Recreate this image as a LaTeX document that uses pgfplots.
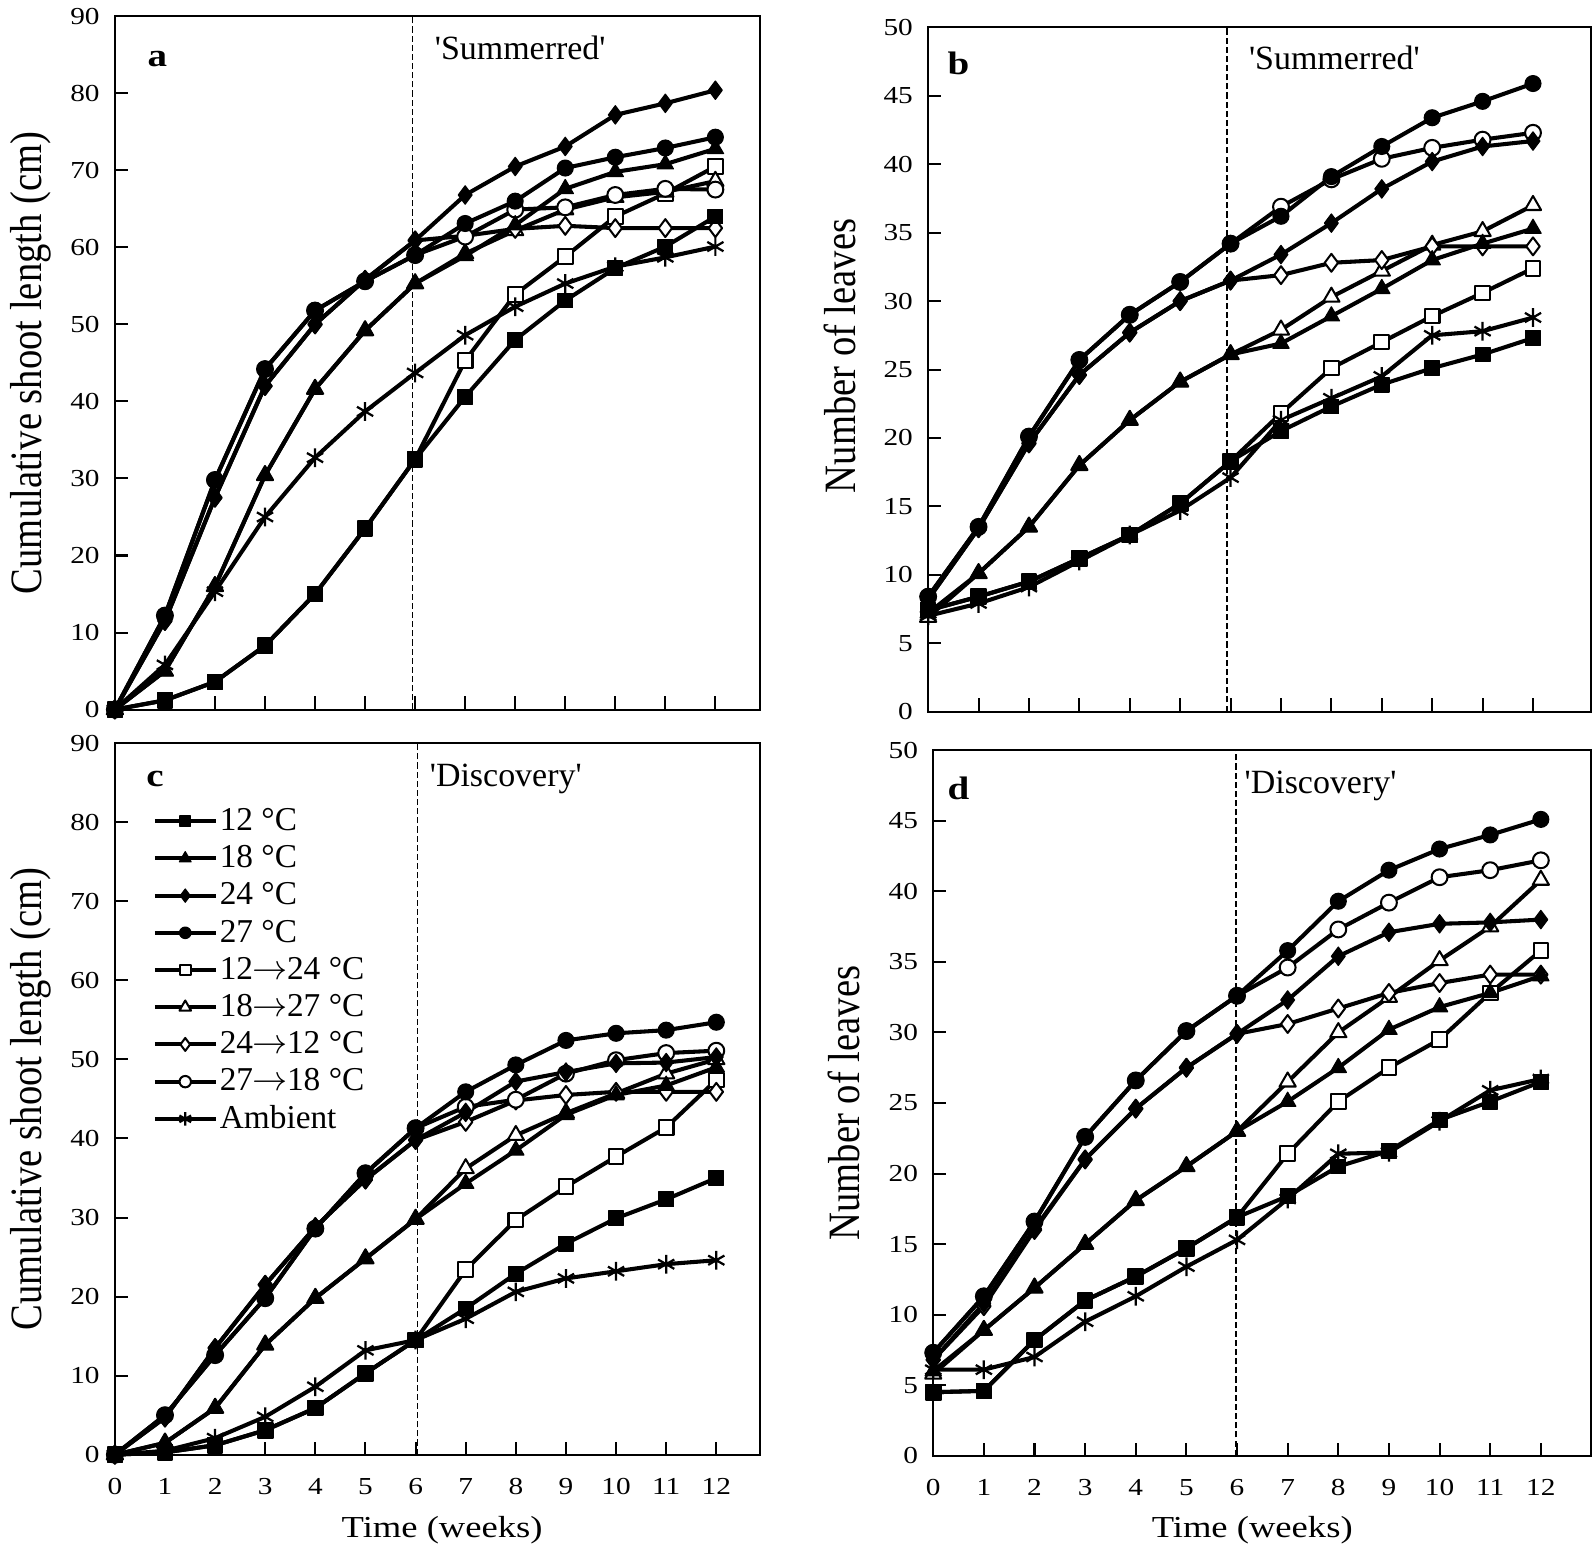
\documentclass[border=0pt]{standalone}
\usepackage{fontspec}
\setmainfont{Liberation Serif}
\newfontfamily\wfont[FakeStretch=1.2]{Liberation Serif}
\usepackage{graphicx}
\usepackage{pgfplots}
\usepackage{pgfplotstable}
\pgfplotsset{compat=1.18}

% a: shoot length, 'Summerred'
\pgfplotstableread{
w t12 t18 t24 t27 t1224 t1827 t2412 t2718 amb
0 0 0 0 0 0 0 0 0 0
1 1.2 5.0 11.5 12.2 1.2 5.0 11.5 12.2 5.8
2 3.6 16.0 27.5 29.8 3.6 16.0 27.5 29.8 15.3
3 8.3 30.4 42.0 44.2 8.3 30.4 42.0 44.2 25.0
4 15.0 41.6 50.0 51.8 15.0 41.6 50.0 51.8 32.7
5 23.5 49.2 55.8 55.6 23.5 49.2 55.8 55.6 38.7
6 32.5 55.3 60.9 59.0 32.5 55.3 60.9 59.0 43.7
7 40.6 58.9 66.8 63.1 45.3 59.2 61.5 61.4 48.6
8 48.0 62.9 70.5 66.0 53.9 62.2 62.4 64.9 52.3
9 53.1 67.6 73.1 70.3 58.8 64.9 62.8 65.2 55.3
10 57.3 69.8 77.2 71.7 64.0 66.5 62.5 66.8 57.5
11 60.1 70.8 78.7 72.9 67.0 67.2 62.5 67.6 58.7
12 64.0 72.8 80.4 74.3 70.5 68.6 62.5 67.5 60.1
}\tabA

% b: leaves, 'Summerred'
\pgfplotstableread{
w t12 t18 t24 t27 t1224 t1827 t2412 t2718 amb
0 7.4 7.2 8.2 8.4 7.4 6.9 8.2 8.4 7.0
1 8.4 10.1 13.4 13.5 8.4 10.1 13.4 13.5 7.9
2 9.5 13.5 19.6 20.1 9.5 13.5 19.6 20.1 9.1
3 11.2 18.0 24.6 25.7 11.2 18.0 24.6 25.7 11.0
4 12.9 21.3 27.7 29.0 12.9 21.3 27.7 29.0 12.9
5 15.2 24.1 30.0 31.4 15.2 24.1 30.0 31.4 14.7
6 18.3 26.1 31.5 34.2 18.3 26.1 31.5 34.2 17.1
7 20.5 26.9 33.4 36.2 21.8 27.9 31.9 36.9 21.3
8 22.3 28.9 35.7 39.1 25.1 30.3 32.8 38.9 22.9
9 23.9 30.9 38.2 41.3 27.0 32.2 33.0 40.4 24.5
10 25.1 33.0 40.2 43.4 28.9 34.1 34.0 41.2 27.5
11 26.1 34.2 41.3 44.6 30.6 35.1 34.0 41.8 27.8
12 27.3 35.3 41.7 45.9 32.4 37.0 34.0 42.3 28.8
}\tabB

% c: shoot length, 'Discovery'
\pgfplotstableread{
w t12 t18 t24 t27 t1224 t1827 t2412 t2718 amb
0 0 0 0 0 0 0 0 0 0
1 0.3 1.5 4.7 5.0 0.3 1.5 4.7 5.0 0.5
2 1.2 5.9 13.5 12.6 1.2 5.9 13.5 12.6 2.1
3 3.1 13.9 21.5 19.8 3.1 13.9 21.5 19.8 4.8
4 5.9 19.8 28.8 28.6 5.9 19.8 28.8 28.6 8.6
5 10.3 24.8 34.8 35.6 10.3 24.8 34.8 35.6 13.2
6 14.5 29.8 39.8 41.3 14.5 29.8 39.8 41.3 14.5
7 18.5 34.3 43.3 45.9 23.4 36.2 42.1 44.0 17.2
8 22.9 38.5 47.2 49.3 29.7 40.4 44.8 44.9 20.6
9 26.7 43.0 48.4 52.4 33.9 43.2 45.5 48.2 22.3
10 29.9 45.5 49.5 53.3 37.7 45.7 45.9 49.9 23.2
11 32.3 46.7 49.6 53.7 41.4 48.2 45.9 50.8 24.1
12 35.0 49.0 50.3 54.7 47.4 50.0 45.9 51.1 24.6
}\tabC

% d: leaves, 'Discovery'
\pgfplotstableread{
w t12 t18 t24 t27 t1224 t1827 t2412 t2718 amb
0 4.5 6.0 6.8 7.3 4.5 5.8 6.8 7.3 6.1
1 4.6 8.9 10.8 11.3 4.6 8.9 10.6 11.3 6.1
2 8.2 11.9 16.1 16.6 8.2 11.9 16.0 16.6 7.0
3 11.0 15.0 21.0 22.6 11.0 15.0 21.0 22.6 9.5
4 12.7 18.1 24.6 26.6 12.7 18.1 24.6 26.6 11.3
5 14.7 20.5 27.5 30.1 14.7 20.5 27.5 30.1 13.4
6 16.9 23.0 29.9 32.6 16.9 23.0 29.9 32.6 15.3
7 18.4 25.1 32.3 35.8 21.4 26.5 30.6 34.6 18.2
8 20.5 27.5 35.4 39.3 25.1 30.0 31.7 37.3 21.4
9 21.6 30.2 37.1 41.5 27.5 32.5 32.8 39.2 21.5
10 23.8 31.8 37.7 43.0 29.5 35.1 33.5 41.0 23.7
11 25.1 32.8 37.8 44.0 32.8 37.5 34.1 41.5 25.9
12 26.5 34.0 38.0 45.1 35.8 40.8 34.1 42.2 26.7
}\tabD

\newcommand\tickfont{\wfont\fontsize{12}{14}\selectfont}
\newcommand\arr{\kern-0.3pt$\rightarrow$\kern-0.3pt}

\pgfplotsset{
  base/.style={black, line width=2pt, line join=round},
  s12/.style={base, mark=square*, mark size=3.6pt, mark options={solid, fill=black, line width=0.6pt}},
  s18/.style={base, mark=triangle*, mark size=4.6pt, mark options={solid, fill=black, line width=0.6pt}},
  s24/.style={base, mark=diamond*, mark size=4.5pt, mark options={solid, fill=black, line width=0.6pt}},
  s27/.style={base, mark=*, mark size=3.9pt, mark options={solid, fill=black, line width=0.6pt}},
  o12/.style={base, mark=square*, mark size=3.6pt, mark options={solid, fill=white, line width=1pt}},
  o18/.style={base, mark=triangle*, mark size=4.6pt, mark options={solid, fill=white, line width=1pt}},
  o24/.style={base, mark=diamond*, mark size=4.4pt, mark options={solid, fill=white, line width=1pt}},
  o27/.style={base, mark=*, mark size=3.9pt, mark options={solid, fill=white, line width=1pt}},
  amb/.style={base, mark=asterisk, mark size=4.6pt, mark options={solid, line width=1.1pt}},
  dashline/.style={forget plot, no marks, black, line width=0.7pt, dash pattern=on 3pt off 1.5pt},
  panel/.style={
    scale only axis, anchor=south west,
    xmin=0, ymin=0, xtick={0,...,12},
    tick align=inside, xtick pos=left, ytick pos=left,
    axis line style={line width=1pt},
    major tick style={line width=1pt, black},
    major tick length=6.5pt,
    clip=false,
    tick label style={font=\tickfont},
    /pgf/number format/assume math mode=true,
    yticklabel style={xshift=-4pt},
    xticklabel style={yshift=-8pt},
    ylabel style={anchor=center, font=\fontsize{19}{22}\selectfont},
    xlabel style={anchor=center, font=\wfont\fontsize{15}{18}\selectfont},
  },
}
\tikzset{
  lettr/.style={font=\wfont\bfseries\fontsize{16}{19}\selectfont},
  ttl/.style={font=\fontsize{16.7}{20}\selectfont},
}

% open (transfer) series first, filled ones over them, ambient last
\newcommand\allseries[1]{%
  \addplot[o12, forget plot] table[x=w,y=t1224]{#1};
  \addplot[o18, forget plot] table[x=w,y=t1827]{#1};
  \addplot[o24, forget plot] table[x=w,y=t2412]{#1};
  \addplot[o27, forget plot] table[x=w,y=t2718]{#1};
  \addplot[s12, forget plot] table[x=w,y=t12]{#1};
  \addplot[s18, forget plot] table[x=w,y=t18]{#1};
  \addplot[s24, forget plot] table[x=w,y=t24]{#1};
  \addplot[s27, forget plot] table[x=w,y=t27]{#1};
  \addplot[amb, forget plot] table[x=w,y=amb]{#1};
}

\begin{document}
\begin{tikzpicture}
\useasboundingbox (0,0) rectangle (784pt,764pt);

% a
\begin{axis}[panel, at={(56.5pt,415pt)}, width=317.5pt, height=341pt,
  xmax=12.9, ymax=90, ytick={0,10,...,90}, xticklabels={},
  ylabel={\scalebox{1}[1.16]{Cumulative shoot length (cm)}},
  ylabel style={at={(axis description cs:-0.131,0.5)}}]
\addplot[dashline] coordinates {(5.95,0) (5.95,90)};
\allseries{\tabA}
\node[lettr] at (axis cs:0.85,84.4) {a};
\node[ttl] at (axis cs:8.1,85.9) {\textquotesingle Summerred\textquotesingle};
\end{axis}

% b
\begin{axis}[panel, at={(456.5pt,414pt)}, width=326pt, height=336.5pt,
  xmax=13.15, ymax=50, ytick={0,5,...,50}, xticklabels={},
  ylabel={\scalebox{1}[1.16]{Number of leaves}},
  ylabel style={at={(axis description cs:-0.133,0.52)}}]
\addplot[dashline] coordinates {(5.93,0) (5.93,50)};
\allseries{\tabB}
\node[lettr] at (axis cs:0.6,47.4) {b};
\node[ttl] at (axis cs:8.06,47.8) {\textquotesingle Summerred\textquotesingle};
\end{axis}

% c
\begin{axis}[panel, at={(56.5pt,48.5pt)}, width=317.5pt, height=350pt,
  xmax=12.88, ymax=90, ytick={0,10,...,90},
  ylabel={\scalebox{1}[1.16]{Cumulative shoot length (cm)}},
  ylabel style={at={(axis description cs:-0.131,0.5)}},
  xlabel={Time (weeks)},
  xlabel style={at={(axis description cs:0.507,-0.106)}},
  legend cell align=left,
  legend image code/.code={\draw[mark repeat=2,mark phase=2,#1,every mark/.append style={scale=0.72}] plot coordinates {(0pt,0pt) (15pt,0pt) (30pt,0pt)};},
  legend style={at={(axis description cs:0.058,0.917)}, anchor=north west,
    draw=none, fill=none, inner sep=0pt, row sep=0pt,
    font=\fontsize{16.4}{19}\selectfont,
    nodes={inner ysep=1.2pt, inner xsep=1pt, text height=12.5pt, text depth=3.4pt}}]
\addlegendimage{s12}
\addlegendimage{s18}
\addlegendimage{s24}
\addlegendimage{s27}
\addlegendimage{o12}
\addlegendimage{o18}
\addlegendimage{o24}
\addlegendimage{o27}
\addlegendimage{amb}
\addplot[dashline] coordinates {(6.04,0) (6.04,90)};
\allseries{\tabC}
\legend{12 °C, 18 °C, 24 °C, 27 °C, 12\arr24 °C, 18\arr27 °C, 24\arr12 °C, 27\arr18 °C, Ambient}
\node[lettr] at (axis cs:0.8,85.5) {c};
\node[ttl] at (axis cs:7.8,85.5) {\textquotesingle Discovery\textquotesingle};
\end{axis}

% d
\begin{axis}[panel, at={(459pt,48pt)}, width=323.5pt, height=347pt,
  xmax=12.99, ymax=50, ytick={0,5,...,50},
  ylabel={\scalebox{1}[1.16]{Number of leaves}},
  ylabel style={at={(axis description cs:-0.136,0.5)}},
  xlabel={Time (weeks)},
  xlabel style={at={(axis description cs:0.485,-0.105)}}]
\addplot[dashline] coordinates {(5.98,0) (5.98,50)};
\allseries{\tabD}
\node[lettr] at (axis cs:0.5,47.3) {d};
\node[ttl] at (axis cs:7.65,47.5) {\textquotesingle Discovery\textquotesingle};
\end{axis}
\end{tikzpicture}
\end{document}
